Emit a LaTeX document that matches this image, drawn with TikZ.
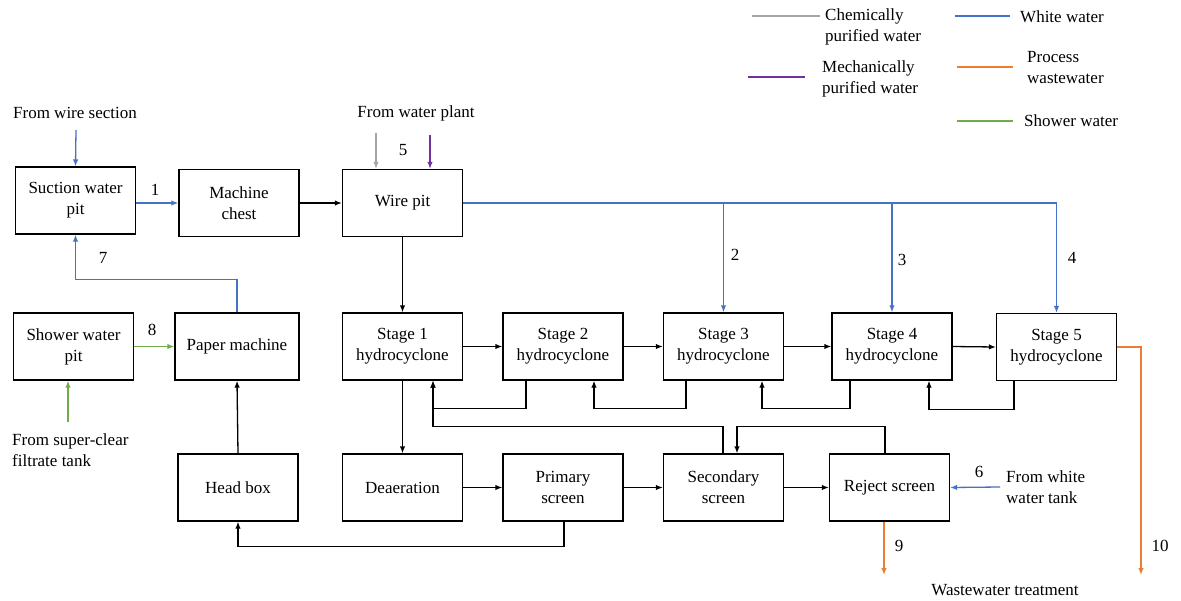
\documentclass[tikz,border=0pt]{standalone}
\usepackage{fontspec}
\newfontfamily\diagfont{Liberation Serif}
\usetikzlibrary{arrows.meta}
\definecolor{wblue}{HTML}{4472C4}
\definecolor{worange}{HTML}{ED7D31}
\definecolor{wgreen}{HTML}{70AD47}
\definecolor{wgray}{HTML}{A5A5A5}
\definecolor{wpurple}{HTML}{7030A0}
\begin{document}
\begin{tikzpicture}[x=1pt,y=-1pt,
  font=\diagfont\fontsize{17}{21}\selectfont,
  unit/.style={draw,line width=1.3pt,minimum width=120pt,minimum height=67pt,align=center,inner sep=2pt},
  lbl/.style={inner sep=0pt,align=left},
  flow/.style={line width=1.3pt,-{Latex[length=7pt,width=5.5pt]}},
  leg/.style={line width=1.4pt}]
\useasboundingbox (0,0) rectangle (1181,600);

% process units
\node[unit] (suc) at (75.5,200.5) {Suction water\\pit};
\node[unit] (mc) at (239,203) {Machine\\chest};
\node[unit] (wp) at (402.5,203) {Wire pit};
\node[unit] (sh) at (73.5,346.5) {Shower water\\pit};
\node[unit,minimum width=124pt] (pm) at (237,346.5) {Paper machine};
\node[unit] (s1) at (402.5,346.5) {Stage 1\\hydrocyclone};
\node[unit] (s2) at (563,346.5) {Stage 2\\hydrocyclone};
\node[unit] (s3) at (723.5,346.5) {Stage 3\\hydrocyclone};
\node[unit] (s4) at (892,346.5) {Stage 4\\hydrocyclone};
\node[unit] (s5) at (1056.5,347) {Stage 5\\hydrocyclone};
\node[unit] (hb) at (238,487.5) {Head box};
\node[unit] (de) at (402.5,487.5) {Deaeration};
\node[unit] (ps) at (563,487.5) {Primary\\screen};
\node[unit] (ss) at (723.5,487.5) {Secondary\\screen};
\node[unit] (rs) at (889.5,487.5) {Reject screen};

% external sources and sinks
\node[lbl] (fws) at (75,113) {From wire section};
\node[lbl] (fwp) at (416,113) {From water plant};
\node[lbl] (fsc) at (12,450) [anchor=west] {From super-clear\\filtrate tank};
\node[lbl] (fwt) at (1006,487) [anchor=west] {From white\\water tank};
\node[lbl] (wwt) at (1005,590) {Wastewater treatment};
\coordinate (fwsA) at (76,130);
\coordinate (chemA) at (376,133);
\coordinate (mechA) at (430,135);
\coordinate (fscA) at (68,422);
\coordinate (fwtA) at (1000,487);
\coordinate (out9) at (884,575);
\coordinate (out10) at (1141,575);

% stream numbers
\node[lbl] at (155,190) {1};
\node[lbl] at (735,255) {2};
\node[lbl] at (902,260) {3};
\node[lbl] at (1072,258) {4};
\node[lbl] at (403,150) {5};
\node[lbl] at (979,472) {6};
\node[lbl] at (103,258) {7};
\node[lbl] at (152,330) {8};
\node[lbl] at (899,546) {9};
\node[lbl] at (1160,546) {10};

% white water
\draw[flow,wblue] (fwsA) -- (suc.north);
\draw[flow,wblue] (suc.east |- mc.west) -- (mc.west);
\draw[flow,wblue] (wp.east) -| (s5.north);
\draw[flow,wblue] (wp.east -| s3.north) -- (s3.north);
\draw[flow,wblue] (wp.east -| s4.north) -- (s4.north);
\draw[flow,wblue] (pm.north) -- ++(0,-33) -| (suc.south);
\draw[flow,wblue] (fwtA) -- (rs.east);

% fresh water from the water plant
\draw[flow,wgray] (chemA) -- (chemA |- wp.north);
\draw[flow,wpurple] (mechA) -- (mechA |- wp.north);

% shower water
\draw[flow,wgreen] (sh.east) -- (pm.west);
\draw[flow,wgreen] (fscA) -- (fscA |- sh.south);

% stock flow
\draw[flow] (mc.east) -- (wp.west);
\draw[flow] (wp.south) -- (s1.north);
\draw[flow] (s1.east) -- (s2.west);
\draw[flow] (s2.east) -- (s3.west);
\draw[flow] (s3.east) -- (s4.west);
\draw[flow] (s4.east) -- (s5.west);
\draw[flow] (s1.south) -- (de.north);
\draw[flow] (de.east) -- (ps.west);
\draw[flow] (ps.east) -- (ss.west);
\draw[flow] (ss.east) -- (rs.west);
\draw[flow] (hb.north) -- (pm.south);
\draw[flow] ([xshift=1pt]ps.south) -- ++(0,25) -| (hb.south);

% hydrocyclone returns
\draw[flow] ([xshift=-37pt]s2.south) -- ++(0,28) -| ([xshift=30.5pt]s1.south);
\draw[flow] ([xshift=-37.5pt]s3.south) -- ++(0,28) -| ([xshift=31pt]s2.south);
\draw[flow] ([xshift=-42pt]s4.south) -- ++(0,28) -| ([xshift=38.5pt]s3.south);
\draw[flow] ([xshift=-42.5pt]s5.south) -- ++(0,28) -| ([xshift=37pt]s4.south);

% screen returns
\draw[flow] ([xshift=-0.5pt]ss.north) -- ++(0,-27) -| ([xshift=30.5pt]s1.south);
\draw[flow] ([xshift=-4.5pt]rs.north) -- ++(0,-27) -| ([xshift=13.5pt]ss.north);

% process wastewater
\draw[flow,worange] ([xshift=-5.5pt]rs.south) -- (out9);
\draw[flow,worange] (s5.east) -| (out10);

% legend
\draw[leg,wgray] (752,16) -- (820,16);
\node[lbl,anchor=west] at (825,27) {Chemically\\purified water};
\draw[leg,wpurple] (748,77) -- (805,77);
\node[lbl,anchor=west] at (822,78.5) {Mechanically\\purified water};
\draw[leg,wblue] (955,16) -- (1010,16);
\node[lbl,anchor=west] at (1020,17) {White water};
\draw[leg,worange] (957,67) -- (1013,67);
\node[lbl,anchor=west] at (1027,67.5) {Process\\wastewater};
\draw[leg,wgreen] (957,121) -- (1013,121);
\node[lbl,anchor=west] at (1024,121) {Shower water};
\end{tikzpicture}
\end{document}
